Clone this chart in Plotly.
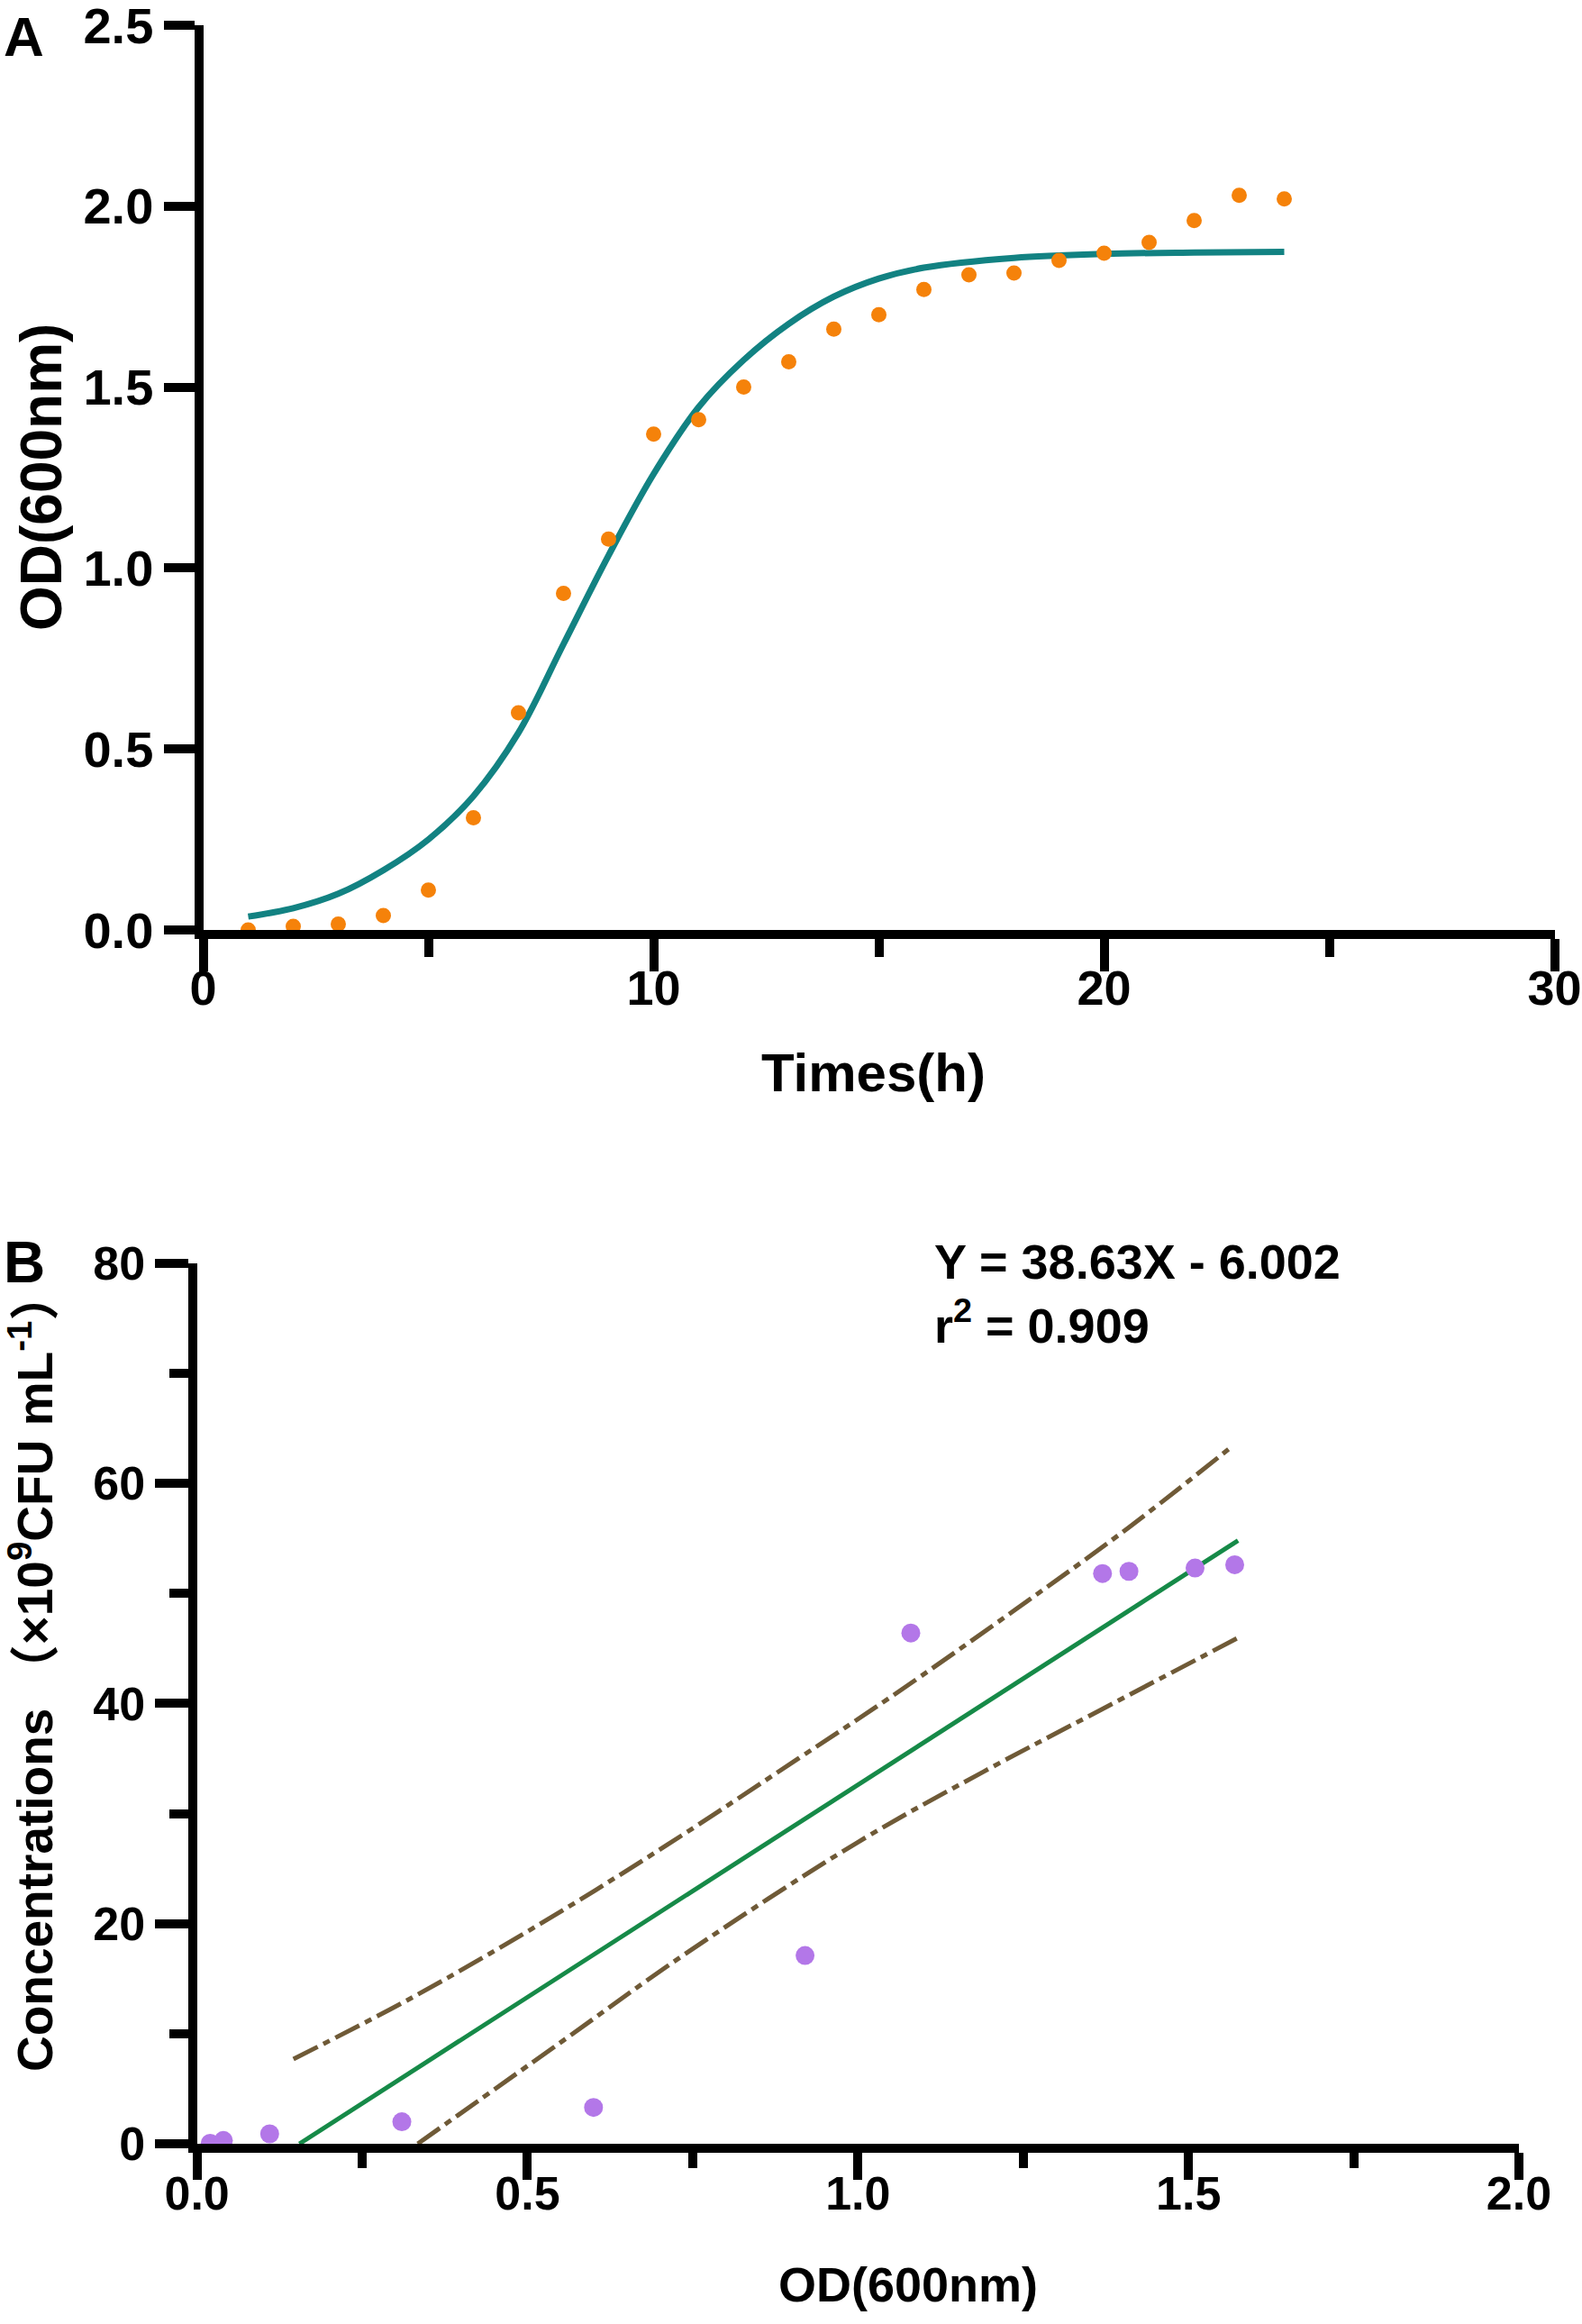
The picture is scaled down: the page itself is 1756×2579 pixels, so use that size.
import plotly.graph_objects as go

W, H = 1756, 2579

# ---- panel A: growth curve ----
hours = list(range(1, 25))
od_values = [0.00, 0.01, 0.016, 0.04, 0.11, 0.31, 0.60, 0.93, 1.08, 1.37, 1.41, 1.50,
             1.57, 1.66, 1.70, 1.77, 1.81, 1.815, 1.85, 1.87, 1.90, 1.96, 2.03, 2.02]

# fitted growth curve
curve_hours = [1, 2, 3, 4, 5, 6, 7, 8, 9, 10, 11, 12, 13, 14, 15, 16, 18, 20, 22, 24]
curve_od = [0.037, 0.06, 0.10, 0.165, 0.25, 0.37, 0.545, 0.79, 1.035, 1.26, 1.445, 1.575,
            1.675, 1.75, 1.80, 1.83, 1.857, 1.868, 1.872, 1.874]

# ---- panel B: OD vs concentration ----
od_b = [0.02, 0.04, 0.11, 0.31, 0.60, 0.92, 1.08, 1.37, 1.41, 1.51, 1.57]
conc_b = [0.05, 0.3, 0.9, 2.0, 3.3, 17.1, 46.4, 51.8, 52.0, 52.3, 52.6]

fit_x = [0.155, 1.575]
fit_y = [0.0, 54.8]
upper_x = [0.146, 0.32, 0.52, 0.71, 0.91, 1.05, 1.24, 1.41, 1.565]
upper_y = [7.7, 13.1, 20.0, 27.1, 35.0, 40.6, 48.6, 56.0, 63.3]
lower_x = [0.334, 0.55, 0.74, 1.00, 1.19, 1.37, 1.573]
lower_y = [0.0, 9.2, 17.3, 27.4, 33.8, 39.5, 45.9]

equation_text = "Y = 38.63X - 6.002"
r2_text = "r<sup>2</sup> = 0.909"

FONT = "Liberation Sans, Arial, Noto Sans CJK SC, sans-serif"
ORANGE = "#f5820a"
TEAL = "#128282"
PURPLE = "#b377e8"
GREEN = "#168a48"
BROWN = "#6f5a37"


def px_x(px):
    return px / W


def px_y(py):
    return 1 - py / H


fig = go.Figure()

fig.add_trace(go.Scatter(x=curve_hours, y=curve_od, mode="lines",
                         line=dict(color=TEAL, width=7, shape="spline", smoothing=1.0),
                         xaxis="x", yaxis="y"))
fig.add_trace(go.Scatter(x=hours, y=od_values, mode="markers",
                         marker=dict(color=ORANGE, size=17), cliponaxis=False,
                         xaxis="x", yaxis="y"))

band_dash = "30px,7px,8px,7px"
fig.add_trace(go.Scatter(x=upper_x, y=upper_y, mode="lines",
                         line=dict(color=BROWN, width=5, dash=band_dash, shape="spline"),
                         xaxis="x2", yaxis="y2"))
fig.add_trace(go.Scatter(x=lower_x, y=lower_y, mode="lines",
                         line=dict(color=BROWN, width=5, dash=band_dash, shape="spline"),
                         xaxis="x2", yaxis="y2"))
fig.add_trace(go.Scatter(x=fit_x, y=fit_y, mode="lines",
                         line=dict(color=GREEN, width=5),
                         xaxis="x2", yaxis="y2"))
fig.add_trace(go.Scatter(x=od_b, y=conc_b, mode="markers",
                         marker=dict(color=PURPLE, size=21), cliponaxis=False,
                         xaxis="x2", yaxis="y2"))

axis_common = dict(showline=True, linewidth=10, linecolor="black", ticks="outside",
                   tickwidth=10, tickcolor="black", showgrid=False, zeroline=False,
                   autorange=False, automargin=False, ticklabeloverflow="allow")

fig.update_layout(
    width=W, height=H,
    margin=dict(l=0, r=0, t=0, b=0, autoexpand=False),
    paper_bgcolor="white", plot_bgcolor="white",
    showlegend=False, hovermode=False,
    font=dict(family=FONT, color="black"),
    xaxis=dict(axis_common, domain=[px_x(225.5), px_x(1725.5)], range=[0, 30],
               tick0=0, dtick=10, ticklen=36, ticklabelstandoff=-28,
               minor=dict(ticks="outside", dtick=5, ticklen=20, tickwidth=10, tickcolor="black"),
               tickfont=dict(size=54, family=FONT, weight="bold"), anchor="y"),
    yaxis=dict(axis_common, domain=[px_y(1032), px_y(28)], range=[0, 2.5],
               tick0=0, dtick=0.5, tickformat=".1f", ticklen=34,
               tickfont=dict(size=56, family=FONT, weight="bold"), anchor="x"),
    xaxis2=dict(axis_common, domain=[px_x(218.6), px_x(1686)], range=[0, 2],
                tick0=0, dtick=0.5, tickformat=".1f", ticklen=30, ticklabelstandoff=-29,
                minor=dict(ticks="outside", dtick=0.25, ticklen=17, tickwidth=10, tickcolor="black"),
                tickfont=dict(size=52, family=FONT, weight="bold"), anchor="y2"),
    yaxis2=dict(axis_common, domain=[px_y(2379), px_y(1401.7)], range=[0, 80],
                tick0=0, dtick=20, ticklen=37,
                minor=dict(ticks="outside", dtick=10, ticklen=21, tickwidth=10, tickcolor="black"),
                tickfont=dict(size=52, family=FONT, weight="bold"), anchor="x2"),
)


def add_label(text, x, y, size, xanchor="center", yanchor="middle", angle=None):
    ann = dict(text=text, x=px_x(x), y=px_y(y), xref="paper", yref="paper",
               xanchor=xanchor, yanchor=yanchor, showarrow=False,
               font=dict(size=size, family=FONT, weight="bold", color="black"))
    if angle is not None:
        ann["textangle"] = angle
    fig.add_annotation(**ann)


# panel letters
add_label("A", 26, 40, 62)
add_label("B", 27, 1401, 64)

# axis titles
add_label("Times(h)", 969, 1190, 60)
add_label("OD(600nm)", 46, 530, 64, angle=-90)
add_label("OD(600nm)", 1008, 2535, 54)
add_label("Concentrations （×10<sup>9</sup>CFU mL<sup>-1</sup>）", 35, 1855, 55, angle=-90)

# regression text
add_label(equation_text, 1035, 1400, 54, xanchor="left")
add_label(r2_text, 1035, 1467, 54, xanchor="left")

# page without body margin / scrollbars so the figure sits at the window's corner
fig.write_html("out.html",
               config={"displayModeBar": False, "staticPlot": True},
               post_script="document.body.style.margin='0px';"
                           "document.body.style.overflow='hidden';")
